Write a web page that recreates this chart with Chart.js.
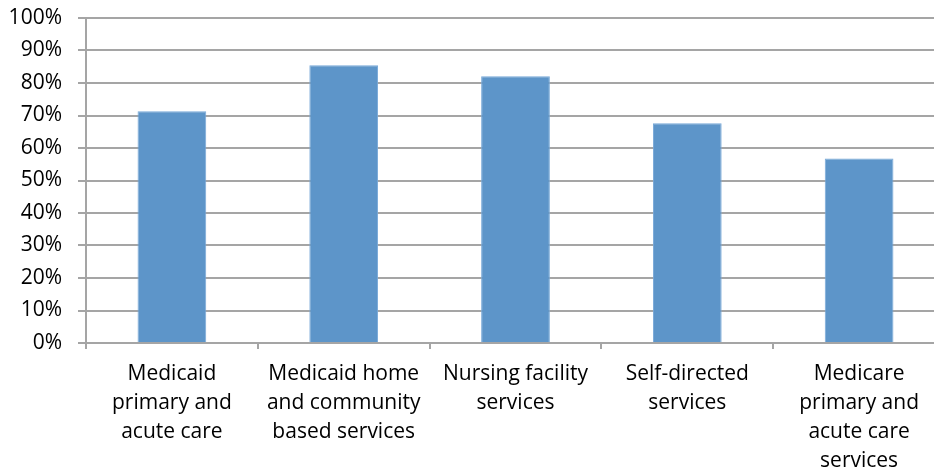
<!DOCTYPE html>
<html>
<head>
<meta charset="utf-8">
<script src="https://cdn.jsdelivr.net/npm/chart.js@4/dist/chart.umd.min.js"></script>
<style>
  html, body { margin: 0; padding: 0; background: #fff; overflow: hidden; }
  #wrap { width: 950px; height: 475px; }
</style>
</head>
<body>
<div id="wrap"><canvas id="c" width="950" height="475"></canvas></div>
<script>
// Service categories (multi-line labels)
const categories = [
  ['Medicaid', 'primary and', 'acute care'],
  ['Medicaid home', 'and community', 'based services'],
  ['Nursing facility', 'services'],
  ['Self-directed', 'services'],
  ['Medicare', 'primary and', 'acute care', 'services']
];
// Share of respondents, percent
const shares = [71.3, 85.5, 82.1, 67.6, 56.8];
// Y axis range and step, percent
const yMin = 0;
const yMax = 100;
const yStep = 10;

const gridGray = '#A5A5A5';
const fontFamily = '"Open Sans", Lato, sans-serif';
const labelFont = { family: fontFamily, size: 21, lineHeight: 1.38 };

new Chart(document.getElementById('c'), {
  type: 'bar',
  data: {
    labels: categories,
    datasets: [{
      data: shares,
      backgroundColor: '#5D95C9',
      borderColor: '#77A8D8',
      borderWidth: 1,
      barPercentage: 0.8,
      categoryPercentage: 0.5
    }]
  },
  options: {
    responsive: false,
    animation: false,
    layout: { padding: { top: 18, right: 5, left: 0, bottom: 0 } },
    plugins: { legend: { display: false }, tooltip: { enabled: false } },
    scales: {
      x: {
        grid: {
          display: true,
          drawOnChartArea: false,
          drawTicks: true,
          tickLength: 6,
          color: gridGray,
          lineWidth: 2,
          offset: true
        },
        border: { display: false },
        ticks: {
          color: '#000',
          font: labelFont,
          padding: 11,
          maxRotation: 0,
          autoSkip: false
        },
        afterFit: (s) => { s.height = 132; s.paddingLeft = 0; s.paddingRight = 0; }
      },
      y: {
        min: yMin,
        max: yMax,
        grid: {
          color: gridGray,
          lineWidth: 2,
          tickLength: 8,
          drawTicks: true
        },
        border: { display: true, color: gridGray, width: 2 },
        ticks: {
          stepSize: yStep,
          color: '#000',
          font: { family: fontFamily, size: 21 },
          padding: 16,
          callback: (v) => v + '%'
        },
        afterFit: (s) => { s.width = 86; s.paddingTop = 0; s.paddingBottom = 0; }
      }
    }
  }
});
</script>
</body>
</html>
